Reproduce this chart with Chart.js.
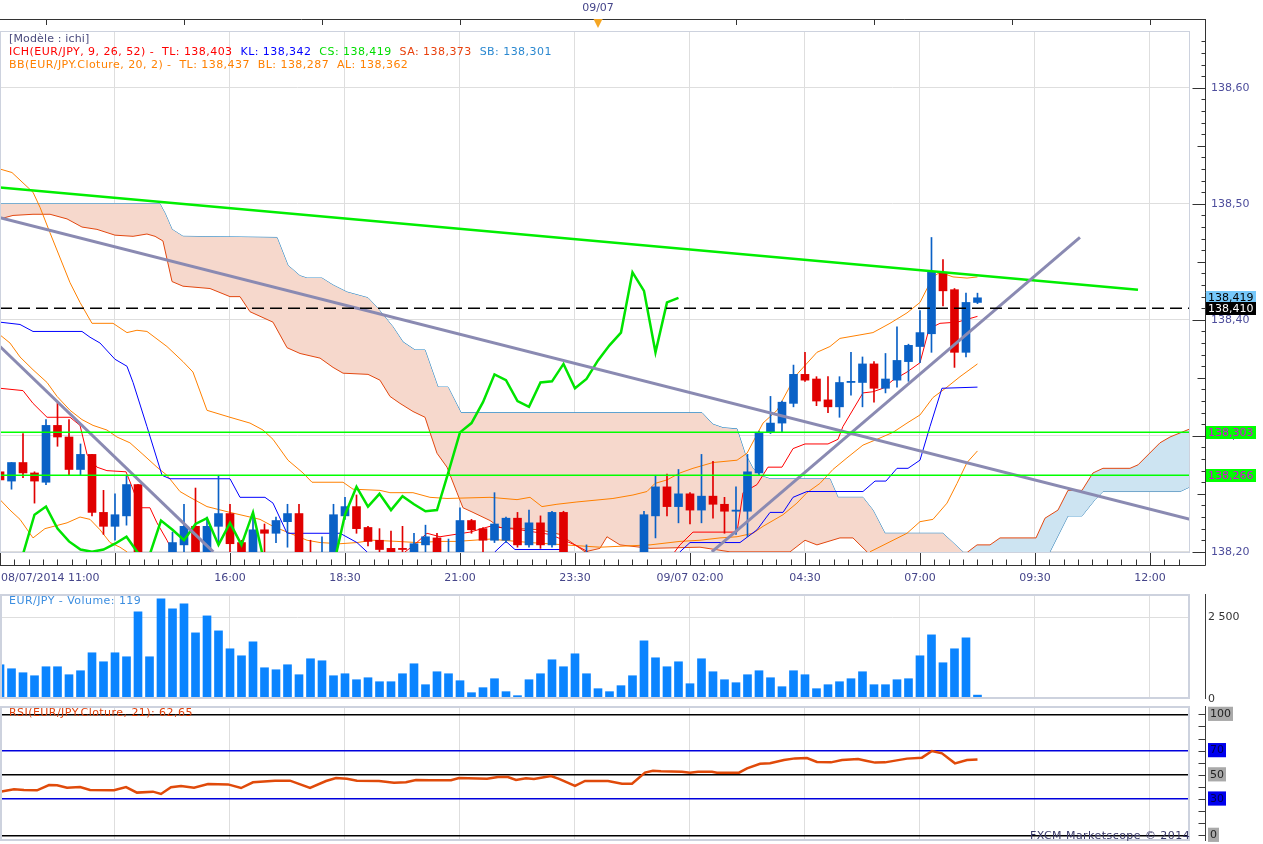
<!DOCTYPE html>
<html lang="fr">
<head>
<meta charset="UTF-8">
<title>EUR/JPY - ichi</title>
<script src="https://cdn.jsdelivr.net/npm/chart.js"></script>
<style>
    * { margin: 0; padding: 0; box-sizing: border-box; }
    body {
        width: 1263px; height: 844px; background: #fff;
        position: relative; overflow: hidden;
        font-family: 'DejaVu Sans', sans-serif; font-size: 11px;
    }
    canvas { position: absolute; left: 0; }
    #main { top: 0; }
    #vol { top: 590px; }
    #rsi { top: 703px; }
    .lbl { position: absolute; left: 9px; white-space: pre; line-height: 13px; letter-spacing: 0.45px; pointer-events: none; }
</style>
</head>
<body>
<canvas id="main" width="1263" height="590"></canvas>
<canvas id="vol" width="1263" height="113"></canvas>
<canvas id="rsi" width="1263" height="141"></canvas>

<div class="lbl" style="top:32px;color:#4b4b7d;letter-spacing:0.15px">[Modèle : ichi]</div>
<div class="lbl" style="top:45px"><span style="color:#f00">ICH(EUR/JPY, 9, 26, 52) -  TL: 138,403</span>  <span style="color:#00f">KL: 138,342</span>  <span style="color:#00dd00">CS: 138,419</span>  <span style="color:#e8400c">SA: 138,373</span>  <span style="color:#2a88d0">SB: 138,301</span></div>
<div class="lbl" style="top:58px;color:#ff8000">BB(EUR/JPY.Cloture, 20, 2) -  TL: 138,437  BL: 138,287  AL: 138,362</div>
<div class="lbl" style="top:594px;color:#3c8ee0">EUR/JPY - Volume: 119</div>
<div class="lbl" style="top:706px;color:#e0400a">RSI(EUR/JPY.Cloture, 21): 62,65</div>
<div class="lbl" style="left:1030px;top:829px;color:#3a3a6a">FXCM Marketscope © 2014</div>

<script>
// bougies 15 min, index 0 = 08/07/2014 11:00
const opens = [138.269, 138.261, 138.277, 138.268, 138.260, 138.309, 138.299, 138.271, 138.284, 138.234,
    138.222, 138.231, 138.258, 138.190, 138.182, 138.192, 138.206, 138.222, 138.195, 138.222,
    138.233, 138.208, 138.197, 138.219, 138.216, 138.226, 138.233, 138.195, 138.185, 138.195,
    138.231, 138.239, 138.221, 138.210, 138.203, 138.203, 138.200, 138.206, 138.212, 138.190,
    138.197, 138.227, 138.220, 138.210, 138.210, 138.229, 138.206, 138.225, 138.206, 138.234,
    138.190, 138.185, 138.190, 138.180, 138.186, 138.180, 138.190, 138.231, 138.256, 138.239,
    138.250, 138.236, 138.248, 138.241, 138.235, 138.235, 138.268, 138.303, 138.311, 138.328,
    138.353, 138.349, 138.331, 138.325, 138.346, 138.346, 138.362, 138.341, 138.348, 138.364,
    138.377, 138.388, 138.441, 138.426, 138.372, 138.415];
const highs = [138.286, 138.277, 138.302, 138.269, 138.314, 138.328, 138.314, 138.293, 138.284, 138.253,
    138.250, 138.266, 138.258, 138.198, 138.195, 138.217, 138.241, 138.255, 138.230, 138.266,
    138.241, 138.210, 138.234, 138.224, 138.230, 138.241, 138.241, 138.210, 138.213, 138.241,
    138.247, 138.249, 138.222, 138.220, 138.218, 138.222, 138.216, 138.223, 138.216, 138.211,
    138.238, 138.228, 138.221, 138.251, 138.230, 138.234, 138.236, 138.231, 138.235, 138.235,
    138.197, 138.206, 138.197, 138.192, 138.196, 138.195, 138.235, 138.266, 138.267, 138.271,
    138.251, 138.284, 138.278, 138.247, 138.256, 138.284, 138.304, 138.334, 138.330, 138.361,
    138.372, 138.351, 138.351, 138.351, 138.372, 138.368, 138.364, 138.371, 138.394, 138.379,
    138.408, 138.471, 138.452, 138.427, 138.423, 138.423];
const lows = [138.261, 138.254, 138.264, 138.242, 138.258, 138.291, 138.266, 138.266, 138.231, 138.215,
    138.210, 138.223, 138.185, 138.175, 138.170, 138.188, 138.195, 138.190, 138.190, 138.208,
    138.200, 138.190, 138.195, 138.200, 138.208, 138.204, 138.185, 138.180, 138.180, 138.190,
    138.228, 138.216, 138.205, 138.199, 138.196, 138.198, 138.197, 138.200, 138.195, 138.185,
    138.195, 138.216, 138.200, 138.208, 138.208, 138.204, 138.204, 138.203, 138.204, 138.185,
    138.178, 138.180, 138.176, 138.172, 138.175, 138.170, 138.185, 138.212, 138.231, 138.225,
    138.224, 138.225, 138.229, 138.216, 138.215, 138.213, 138.266, 138.302, 138.303, 138.325,
    138.347, 138.326, 138.320, 138.316, 138.335, 138.325, 138.329, 138.337, 138.342, 138.347,
    138.363, 138.372, 138.412, 138.359, 138.368, 138.414];
const closes = [138.262, 138.277, 138.268, 138.261, 138.309, 138.299, 138.271, 138.284, 138.234, 138.222,
    138.232, 138.258, 138.190, 138.182, 138.190, 138.208, 138.222, 138.195, 138.222, 138.233,
    138.207, 138.197, 138.219, 138.216, 138.227, 138.233, 138.190, 138.188, 138.198, 138.232,
    138.239, 138.220, 138.209, 138.202, 138.200, 138.202, 138.207, 138.213, 138.199, 138.197,
    138.227, 138.219, 138.210, 138.224, 138.229, 138.206, 138.225, 138.206, 138.234, 138.190,
    138.185, 138.190, 138.180, 138.186, 138.180, 138.188, 138.232, 138.256, 138.239, 138.250,
    138.236, 138.248, 138.241, 138.235, 138.236, 138.269, 138.303, 138.311, 138.329, 138.353,
    138.348, 138.330, 138.325, 138.346, 138.347, 138.362, 138.341, 138.349, 138.365, 138.378,
    138.389, 138.441, 138.425, 138.372, 138.415, 138.419];
const volumes = [1047, 925, 803, 711, 986, 986, 742, 864, 1413, 1138,
    1413, 1291, 2663, 1291, 3059, 2754, 2907, 2022, 2541, 2083,
    1535, 1321, 1748, 955, 894, 1047, 742, 1230, 1169, 711,
    772, 589, 650, 528, 528, 772, 1077, 437, 833, 772,
    559, 193, 346, 620, 224, 102, 589, 772, 1199, 986,
    1382, 772, 315, 224, 407, 711, 1778, 1260, 986, 1138,
    467, 1230, 833, 589, 498, 742, 864, 650, 376, 864,
    742, 315, 437, 528, 620, 833, 437, 437, 589, 620,
    1321, 1961, 1108, 1535, 1870, 119];

// indicateurs : [index bougie, valeur]
const tenkan = [[0,138.341],[2,138.339],[2.87,138.328],[4.09,138.316],[6.09,138.316],[6.96,138.309],[7.57,138.284],[8.43,138.273],[9.3,138.270],[10.96,138.269],[11.48,138.256],[12.17,138.238],[13.04,138.238],[13.65,138.225],[14.52,138.210],[15.04,138.200],[15.65,138.189],[34.35,138.189],[35.22,138.200],[35.91,138.205],[37.13,138.216],[38.26,138.213],[40.87,138.217],[42.61,138.222],[45.22,138.219],[47.83,138.215],[50,138.206],[51.13,138.200],[52.17,138.189],[57.83,138.189],[59.13,138.206],[60.26,138.217],[64.09,138.217],[64.61,138.251],[65.83,138.258],[66.78,138.273],[68,138.273],[68.96,138.289],[70,138.293],[72,138.293],[72.87,138.297],[73.3,138.308],[75.04,138.337],[75.91,138.338],[76.78,138.341],[77.65,138.348],[78.87,138.355],[80,138.363],[80.7,138.389],[81.13,138.394],[81.74,138.397],[83.22,138.398],[85,138.403]];
const kijun = [[0,138.398],[1.74,138.396],[2.87,138.390],[7.13,138.390],[7.83,138.385],[8.7,138.380],[10,138.366],[11.04,138.360],[11.57,138.346],[12.78,138.308],[14.09,138.266],[14.78,138.263],[20,138.263],[20.87,138.247],[23.04,138.247],[23.74,138.242],[24.96,138.216],[29.57,138.216],[31.04,138.208],[31.91,138.200],[32.61,138.189],[42.17,138.189],[43.04,138.200],[44,138.209],[44.78,138.202],[49.13,138.202],[50,138.189],[58.26,138.189],[59.13,138.200],[60,138.208],[64.35,138.208],[65.83,138.219],[66.96,138.234],[68.09,138.234],[68.96,138.247],[70.17,138.252],[75.04,138.252],[76.09,138.261],[77.04,138.261],[78,138.272],[78.96,138.272],[80,138.279],[80.87,138.308],[81.91,138.341],[85,138.342]];
const senkouA = [[0,138.487],[1.13,138.490],[2.87,138.491],[4.35,138.491],[5.83,138.487],[7.13,138.480],[8.43,138.478],[10,138.473],[11.57,138.472],[12.78,138.474],[13.48,138.472],[14.17,138.468],[14.96,138.433],[15.91,138.429],[18.26,138.427],[20,138.420],[20.87,138.420],[21.74,138.407],[23.74,138.398],[24.96,138.376],[26.09,138.371],[27.83,138.367],[28.96,138.359],[29.83,138.354],[32,138.353],[33.04,138.348],[33.91,138.334],[34.78,138.328],[35.91,138.321],[36.96,138.316],[37.39,138.303],[38,138.285],[38.87,138.273],[39.74,138.251],[40.26,138.238],[41.13,138.234],[42.61,138.227],[43.48,138.221],[46.96,138.219],[48.7,138.215],[50,138.206],[50.87,138.200],[52.17,138.203],[52.78,138.213],[53.91,138.206],[56.52,138.203],[60.87,138.204],[63.48,138.200],[68.7,138.200],[70,138.210],[71.04,138.206],[73.04,138.212],[74.17,138.212],[75.39,138.200],[76.52,138.189],[83.04,138.189],[84.17,138.200],[84.96,138.206],[86.09,138.206],[86.96,138.212],[90.09,138.212],[90.87,138.229],[92,138.236],[92.87,138.253],[94.09,138.253],[95.04,138.268],[95.91,138.272],[98.26,138.272],[98.96,138.275],[100.87,138.294],[101.74,138.299],[103.48,138.306]];
const senkouB = [[0,138.500],[13.91,138.500],[14.35,138.492],[14.96,138.478],[15.91,138.472],[24.09,138.471],[25.04,138.447],[26.09,138.438],[26.7,138.436],[28,138.436],[28.96,138.430],[30.17,138.424],[32,138.419],[32.78,138.411],[34.17,138.394],[35.04,138.381],[36.09,138.374],[36.96,138.374],[38.09,138.342],[38.96,138.342],[40.09,138.320],[61.04,138.320],[62,138.310],[62.87,138.307],[64.09,138.306],[64.78,138.285],[65.48,138.272],[66.09,138.266],[66.96,138.263],[72.17,138.263],[72.87,138.247],[75.04,138.247],[75.91,138.236],[76.96,138.216],[82,138.216],[83.74,138.200],[84.52,138.189],[90.61,138.189],[91.3,138.200],[92.87,138.231],[94.09,138.231],[95.22,138.245],[95.91,138.252],[102.61,138.252],[103.48,138.256]];
const bbUpper = [[0,138.530],[1.04,138.527],[2.87,138.510],[3.48,138.497],[4.35,138.475],[6.09,138.432],[6.96,138.415],[8,138.397],[9.83,138.397],[11.04,138.389],[11.91,138.391],[12.78,138.390],[14.52,138.377],[15.91,138.364],[16.78,138.355],[18,138.322],[20,138.316],[21.74,138.311],[22.87,138.305],[23.74,138.297],[25.04,138.279],[26.35,138.268],[27.13,138.260],[29.83,138.260],[30.7,138.254],[33.04,138.253],[33.91,138.251],[35.91,138.251],[37.39,138.247],[38.87,138.246],[42.61,138.247],[44.96,138.245],[46.09,138.247],[47.13,138.239],[48.43,138.241],[50.17,138.243],[53.3,138.246],[55.04,138.249],[56.26,138.252],[56.96,138.259],[58,138.262],[59.13,138.268],[60.26,138.272],[62,138.277],[64.09,138.279],[64.96,138.285],[66.35,138.311],[67.57,138.322],[68.87,138.346],[69.39,138.354],[71.04,138.372],[72.17,138.377],[73.04,138.384],[74.78,138.387],[75.91,138.389],[77.39,138.397],[78.87,138.406],[80,138.415],[81.13,138.437],[81.74,138.441],[82.87,138.437],[84.09,138.436],[85,138.437]];
const bbMiddle = [[0,138.387],[0.87,138.380],[1.74,138.368],[2.87,138.357],[4.09,138.346],[4.96,138.334],[6.09,138.322],[7.13,138.314],[8.09,138.309],[9.3,138.305],[10.17,138.299],[11.3,138.294],[12.43,138.284],[13.65,138.273],[14.52,138.266],[15.65,138.252],[16.52,138.247],[18,138.239],[20,138.234],[21.74,138.230],[22.61,138.228],[23.74,138.222],[25.22,138.216],[26.7,138.210],[27.83,138.208],[29.57,138.207],[31.04,138.208],[32.43,138.210],[34.52,138.209],[36.26,138.208],[38.26,138.209],[39.74,138.209],[42.61,138.211],[46.09,138.208],[52.17,138.204],[56.52,138.206],[59.13,138.209],[60.87,138.210],[62.61,138.212],[64.09,138.213],[65.48,138.216],[66.35,138.222],[68.09,138.232],[69.3,138.242],[70.17,138.251],[71.3,138.259],[72.43,138.271],[73.65,138.281],[75.04,138.292],[76.26,138.297],[77.65,138.303],[78.87,138.311],[80,138.318],[81.13,138.333],[82.35,138.342],[83.48,138.351],[85,138.362]];
const bbLower = [[0,138.245],[0.87,138.236],[1.74,138.228],[2.87,138.212],[3.91,138.220],[5.83,138.225],[6.96,138.230],[7.83,138.228],[8.7,138.219],[9.57,138.208],[10.43,138.204],[11.04,138.200],[11.74,138.189],[74.78,138.189],[75.65,138.200],[78.87,138.216],[80,138.226],[81.13,138.228],[82.35,138.242],[83.22,138.259],[84.09,138.277],[85,138.287]];
const rsi = [[0,36.1],[1.22,38.0],[2.09,37.5],[3.22,37.2],[4.26,41.6],[4.96,41.3],[5.83,39.4],[6.96,39.9],[7.83,37.5],[9.91,37.2],[10.96,39.9],[11.91,35.3],[13.3,36.1],[14,34.2],[14.87,39.7],[15.74,40.8],[16.87,39.4],[18.09,42.4],[19.83,42.1],[20.96,39.1],[22,43.8],[23.91,45.2],[25.22,45.2],[26.96,39.1],[28.35,44.9],[29.22,47.4],[30.17,46.8],[31.04,45.2],[32.96,44.9],[34.26,43.5],[35.3,43.8],[36.17,45.7],[37.39,45.5],[39.22,45.5],[39.91,47.4],[42.35,46.8],[43.3,48.2],[44.17,48.2],[44.87,45.7],[45.74,47.1],[46.43,46.6],[47.91,49.0],[48.61,46.6],[50,40.8],[50.87,44.9],[52.87,44.9],[54.09,42.7],[54.96,42.6],[56.09,51.8],[56.78,53.4],[57.48,52.9],[59.3,52.6],[60,51.8],[60.7,52.6],[61.91,52.6],[62.35,51.8],[64.26,51.8],[64.96,55.4],[66.09,59.2],[66.96,59.5],[68.17,62.3],[69.13,63.6],[70.17,63.9],[71.04,60.6],[72.26,60.3],[73.22,62.3],[74.61,63.1],[75.3,61.7],[76.09,60.1],[76.96,60.3],[78.87,63.4],[80.17,64.2],[81.04,69.7],[81.91,67.8],[83.04,59.5],[84.09,62.3],[85,62.65]];

// lignes tracées à la main
const greenTrend = [[0,138.514],[98.96,138.426]];
const greyTrendLong = [[0,138.488],[103.48,138.228]];
const greySteep = [[0,138.377],[18.55,138.200]];
const greyRise = [[61.9,138.200],[93.91,138.471]];
const supportLevels = [138.303, 138.266];
const lastPrice = 138.410;
const badgeValues = [138.419, 138.410, 138.303, 138.266];

// axes
const timeLabels = ['08/07/2014 11:00', '', '16:00', '18:30', '21:00', '23:30', '09/07 02:00', '04:30', '07:00', '09:30', '12:00'];
const topTicks = [4, 16, 28, 40, 52, 64, 76, 88, 100];
const dayBar = 52, dayLabel = '09/07';
const priceTicks = [138.2, 138.3, 138.4, 138.5, 138.6];
const volumeTicks = [0, 2500];
const rsiTicks = [0, 10, 20, 30, 40, 50, 60, 70, 80, 90, 100];
const rsiLevels = [100, 70, 50, 30, 0];

const KUMO_SHIFT = 26;
const X_MAX = 103.48;
const AXIS_X = 1205.5;
const FONT = { family: 'DejaVu Sans', size: 11 };
const LABEL_COLOR = '#45458a';

Chart.defaults.font.family = FONT.family;
Chart.defaults.font.size = FONT.size;

const toXY = pts => pts.map(([x, y]) => ({ x, y }));
const span = v => [[0, v], [X_MAX, v]];
const fmt = (v, d) => v.toFixed(d).replace('.', ',');
const line = (label, pts, color, width, order, extra) => Object.assign({
    type: 'line', label, data: toXY(pts), borderColor: color, borderWidth: width,
    pointRadius: 0, fill: false, tension: 0, order
}, extra || {});

const candleColors = closes.map((c, i) => c >= opens[i] ? '#0a61c6' : '#e00000');

const common = {
    responsive: false,
    animation: false,
    events: [],
    plugins: { legend: { display: false }, tooltip: { enabled: false } }
};

// tailles d'axes fixes, sans marges automatiques
const fixX = h => s => { s.height = h; s.paddingLeft = 0; s.paddingRight = 0; };
const fixY = w => s => { s.width = w; s.paddingTop = 0; s.paddingBottom = 0; };

const panelX = {
    type: 'linear', min: 0, max: X_MAX, offset: false,
    afterBuildTicks: s => { s.ticks = timeLabels.map((_, i) => ({ value: i * 10 })); },
    afterFit: fixX(0),
    grid: { color: '#dedede', drawTicks: false, offset: false },
    border: { display: false },
    ticks: { display: false }
};

// cadre + axe de droite des panneaux
function drawFrame(chart) {
    const { ctx, chartArea: a } = chart;
    ctx.save();
    ctx.strokeStyle = '#cdd2de';
    ctx.lineWidth = 2;
    ctx.strokeRect(a.left + 1, a.top + 1, a.width - 2, a.height - 2);
    ctx.strokeStyle = '#3a3a3a';
    ctx.lineWidth = 1;
    ctx.beginPath();
    ctx.moveTo(AXIS_X, a.top);
    ctx.lineTo(AXIS_X, a.bottom);
    ctx.stroke();
    ctx.restore();
}

const mainDecor = {
    id: 'mainDecor',
    afterDraw(chart) {
        const { ctx, chartArea: a, scales: { x, y } } = chart;
        const px = v => Math.round(x.getPixelForValue(v)) + 0.5;
        const by = a.bottom + 12.5;
        ctx.save();
        ctx.strokeStyle = '#cdd2de';
        ctx.lineWidth = 1;
        ctx.strokeRect(a.left + 0.5, a.top + 0.5, a.width - 1, a.height - 1);

        ctx.strokeStyle = '#333';
        ctx.beginPath();
        // axe du haut
        ctx.moveTo(0, 19.5); ctx.lineTo(AXIS_X, 19.5);
        topTicks.forEach(b => { ctx.moveTo(px(b), 19); ctx.lineTo(px(b), 25); });
        // axe du bas
        ctx.moveTo(0, by); ctx.lineTo(AXIS_X, by);
        for (let k = 0; k * 1.25 <= X_MAX; k++) {
            const p = px(k * 1.25);
            ctx.moveTo(p, k % 8 === 0 ? a.bottom : by - 6);
            ctx.lineTo(p, by);
        }
        // axe de droite
        ctx.moveTo(AXIS_X, 19); ctx.lineTo(AXIS_X, by);
        for (let k = 0; k <= 44; k++) {
            const p = Math.round(y.getPixelForValue(138.2 + k * 0.01)) + 0.5;
            const len = k % 10 === 0 ? 13 : (k % 5 === 0 ? 8 : 4);
            ctx.moveTo(AXIS_X - len, p); ctx.lineTo(AXIS_X, p);
        }
        ctx.stroke();

        // repère du jour
        const dx = x.getPixelForValue(dayBar);
        ctx.fillStyle = '#f5a623';
        ctx.beginPath();
        ctx.moveTo(dx - 4.5, 19); ctx.lineTo(dx + 4.5, 19); ctx.lineTo(dx, 28); ctx.closePath();
        ctx.fill();

        ctx.font = '11px "DejaVu Sans"';
        ctx.textBaseline = 'middle';
        ctx.fillStyle = LABEL_COLOR;
        ctx.textAlign = 'center';
        ctx.fillText(dayLabel, dx, 8);
        ctx.textAlign = 'left';
        ctx.fillText(timeLabels[0], 1, a.bottom + 25);

        // étiquettes de prix
        const styles = [['#76c8fa', '#000'], ['#000', '#fff'], ['#00ff00', '#e000e0'], ['#00ff00', '#e000e0']];
        badgeValues.forEach((v, i) => {
            const p = y.getPixelForValue(v);
            ctx.fillStyle = styles[i][0];
            ctx.fillRect(1206, Math.round(p - 6.5), 50, 13);
            ctx.fillStyle = styles[i][1];
            ctx.fillText(fmt(v, 3), 1208, p + 0.5);
        });
        ctx.restore();
    }
};

new Chart(document.getElementById('main'), {
    type: 'line',
    data: {
        datasets: [
            line('SB', senkouB, '#1b7fc1', 1, 20),
            line('SA', senkouA, '#e2470f', 1, 19, { fill: { target: 0, above: '#cde4f2', below: '#f6d8cc' } }),
            line('BB TL', bbUpper, '#ff8000', 1, 16),
            line('BB AL', bbMiddle, '#ff8000', 1, 16),
            line('BB BL', bbLower, '#ff8000', 1, 16),
            line('KL', kijun, '#0000ff', 1, 14),
            line('TL', tenkan, '#ff0000', 1, 13),
            {
                type: 'bar', label: 'mèches', order: 12, grouped: false, barThickness: 1,
                data: closes.map((c, i) => ({ x: i, y: [lows[i], highs[i]] })),
                backgroundColor: candleColors
            },
            {
                type: 'bar', label: 'corps', order: 11, grouped: false, barThickness: 8, minBarLength: 1,
                data: closes.map((c, i) => ({ x: i, y: [opens[i], c] })),
                backgroundColor: candleColors
            },
            line('CS', closes.map((c, i) => [i - KUMO_SHIFT, c]), '#00e400', 2.5, 8),
            line('tendance', greenTrend, '#00ee00', 2.5, 6),
            line('tendance 1', greyTrendLong, '#8a8ab2', 3, 5),
            line('tendance 2', greySteep, '#8a8ab2', 3, 5),
            line('tendance 3', greyRise, '#8a8ab2', 3, 5),
            line('niveau 1', span(supportLevels[0]), '#00ff00', 1.5, 3),
            line('niveau 2', span(supportLevels[1]), '#00ff00', 1.5, 3),
            line('dernier', span(lastPrice), '#000', 1.5, 2, { borderDash: [12, 6] })
        ]
    },
    options: Object.assign({}, common, {
        layout: { padding: { top: 31, left: 0, right: 0, bottom: 0 } },
        scales: {
            x: {
                type: 'linear', min: 0, max: X_MAX, offset: false,
                afterBuildTicks: s => { s.ticks = timeLabels.map((_, i) => ({ value: i * 10 })); },
                afterFit: fixX(37),
                grid: { color: '#dedede', drawTicks: false, offset: false },
                border: { display: false },
                ticks: {
                    padding: 19, color: LABEL_COLOR, font: FONT, maxRotation: 0, autoSkip: false,
                    callback: (v, i) => i === 0 ? '' : timeLabels[i]
                }
            },
            y: {
                position: 'right', min: 138.199, max: 138.649,
                afterBuildTicks: s => { s.ticks = priceTicks.map(v => ({ value: v })); },
                afterFit: fixY(73),
                grid: { color: '#dedede', drawTicks: false },
                border: { display: false },
                ticks: { padding: 21, color: '#4d4d9c', font: FONT, autoSkip: false, callback: v => fmt(v, 2) }
            }
        }
    }),
    plugins: [mainDecor]
});

new Chart(document.getElementById('vol'), {
    type: 'bar',
    data: {
        datasets: [{
            label: 'Volume', grouped: false, barThickness: 8,
            data: volumes.map((v, i) => ({ x: i, y: v })),
            backgroundColor: '#0a84ff'
        }]
    },
    options: Object.assign({}, common, {
        layout: { padding: { top: 4, bottom: 4 } },
        scales: {
            x: panelX,
            y: {
                position: 'right', min: 0, max: 3210,
                afterBuildTicks: s => { s.ticks = volumeTicks.map(v => ({ value: v })); },
                afterFit: fixY(73),
                grid: { color: c => c.tick && c.tick.value === 0 ? 'rgba(0,0,0,0)' : '#dedede', drawTicks: false },
                border: { display: false },
                ticks: {
                    padding: 18, color: '#333', font: FONT,
                    callback: v => v >= 1000 ? Math.floor(v / 1000) + ' ' + String(v % 1000).padStart(3, '0') : String(v)
                }
            }
        }
    }),
    plugins: [{ id: 'volFrame', afterDraw: c => drawFrame(c) }]
});

const levelColor = v => (v === 70 || v === 30) ? '#0000dd' : (v === 100 || v === 50 || v === 0) ? '#000' : 'rgba(0,0,0,0)';

new Chart(document.getElementById('rsi'), {
    type: 'line',
    data: { datasets: [line('RSI', rsi, '#e04a0a', 2.5, 1)] },
    options: Object.assign({}, common, {
        layout: { padding: { top: 3, bottom: 3 } },
        scales: {
            x: panelX,
            y: {
                position: 'right', min: -4.7, max: 106.9,
                afterBuildTicks: s => { s.ticks = rsiTicks.map(v => ({ value: v })); },
                afterFit: fixY(73),
                grid: { color: c => levelColor(c.tick ? c.tick.value : -1), lineWidth: 1.5, drawTicks: false },
                border: { display: false },
                ticks: {
                    padding: 20, font: FONT, autoSkip: false,
                    color: c => (c.tick.value === 70 || c.tick.value === 30) ? '#000050' : '#222',
                    showLabelBackdrop: true,
                    backdropPadding: { left: 2, right: 2, top: 1, bottom: 0 },
                    backdropColor: c => !rsiLevels.includes(c.tick.value) ? 'rgba(0,0,0,0)'
                        : (c.tick.value === 70 || c.tick.value === 30) ? '#0000ee' : '#a9a9a9',
                    callback: v => rsiLevels.includes(v) ? String(v) : ''
                }
            }
        }
    }),
    plugins: [{
        id: 'rsiFrame',
        afterDraw(c) {
            drawFrame(c);
            const { ctx, scales: { y } } = c;
            ctx.save();
            ctx.strokeStyle = '#3a3a3a';
            ctx.beginPath();
            rsiTicks.forEach(v => {
                const p = Math.round(y.getPixelForValue(v)) + 0.5;
                ctx.moveTo(AXIS_X - 7, p); ctx.lineTo(AXIS_X, p);
            });
            ctx.stroke();
            ctx.restore();
        }
    }]
});
</script>
</body>
</html>
